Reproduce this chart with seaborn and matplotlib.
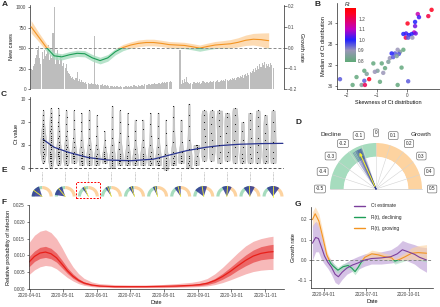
import numpy as np
import pandas as pd
import matplotlib
matplotlib.use('Agg')
import matplotlib.pyplot as plt
import matplotlib.dates as mdates
from matplotlib.patches import Wedge, Rectangle
from matplotlib.lines import Line2D
from matplotlib.colors import LinearSegmentedColormap, Normalize
import seaborn as sns

sns.set_style('ticks')
plt.rcParams['font.family'] = ['Liberation Sans', 'DejaVu Sans']
plt.rcParams.update({
    'font.size': 3.4, 'axes.linewidth': 0.5, 'axes.labelsize': 4, 'axes.labelpad': 1.5,
    'xtick.labelsize': 3.4, 'ytick.labelsize': 3.4,
    'xtick.major.width': 0.5, 'ytick.major.width': 0.5,
    'xtick.major.size': 1.8, 'ytick.major.size': 1.8,
    'xtick.major.pad': 1, 'ytick.major.pad': 1,
    'xtick.color': '#444444', 'ytick.color': '#444444', 'axes.labelcolor': '#111111',
})

# ---------------- data ----------------
# A: daily new cases from 2020-04-01
cases = [250, 230, 280, 310, 380, 420, 470,
         520, 380, 300, 450, 360, 480, 400,
         430, 470, 540, 350, 420, 380, 680,
         1000, 300, 420, 480, 350, 300, 410,
         370, 280, 320, 260, 300, 220, 190,
         180, 160, 140, 150, 120, 110, 130,
         210, 100, 120, 90, 110, 80, 90,
         70, 80, 60, 75, 65, 55, 70,
         60, 55, 650, 60, 50, 55, 45,
         50, 45, 55, 40, 50, 45, 40,
         45, 40, 10, 35, 40, 30, 35,
         30, 35, 40, 30, 25, 35, 30,
         30, 25, 35, 40, 30, 35, 25,
         35, 40, 30, 45, 35, 40, 30,
         45, 40, 35, 50, 45, 40, 55,
         50, 45, 60, 55, 50, 65, 60,
         55, 70, 60, 65, 75, 70, 60,
         75, 80, 70, 85, 75, 90, 80,
         85, 95, 80, 0, 0, 0, 0,
         0, 0, 0, 480, 60, 110, 70,
         120, 80, 150, 90, 75, 60, 70,
         65, 80, 90, 70, 75, 85, 70,
         80, 65, 75, 95, 80, 70, 85,
         90, 75, 85, 100, 80, 90, 95,
         85, 95, 105, 90, 80, 100, 110,
         95, 110, 100, 120, 105, 95, 115,
         125, 110, 130, 120, 140, 115, 135,
         150, 130, 160, 145, 170, 140, 165,
         180, 160, 200, 175, 210, 190, 220,
         240, 210, 260, 230, 280, 250, 300,
         270, 320, 290, 330, 260, 310, 280,
         300, 270, 320, 290, 260]
# A: weekly growth rate (from 2020-04-01) and half width of its interval
a_growth = [0.10, 0.05, 0.0, -0.04, -0.045, -0.035, -0.028, -0.03, -0.05, -0.063, -0.05,
            -0.02, 0.0, 0.012, 0.02, 0.024, 0.024, 0.02, 0.014, 0.012, 0.01, 0.004,
            -0.003, 0.005, 0.012, 0.015, 0.018, 0.025, 0.035, 0.04, 0.038, 0.033]
a_half = [0.03, 0.022, 0.018, 0.016, 0.015, 0.015, 0.015, 0.015, 0.016, 0.016, 0.016,
          0.015, 0.015, 0.015, 0.016, 0.016, 0.016, 0.015, 0.015, 0.015, 0.015, 0.015,
          0.015, 0.016, 0.017, 0.018, 0.02, 0.022, 0.025, 0.028, 0.032, 0.038]

# B: skewness / median Ct per week, coloured by Rt
b_skew = [0.82, 0.71, 0.36, 0.40, 0.27, 0.02, 0.27, 0.24, -0.12, -0.03, 0.07, 0.16, -0.04,
          0.04, 0.18, 0.29, -0.12, -0.23, -0.31, -0.27, -0.40, -0.51, -0.57, -0.46, -0.34,
          -0.62, -0.84, -1.12, -0.18, -0.73, -0.98, -1.07, -0.79, -1.42, -1.34, -1.68,
          -2.23, -1.26, -1.42, -0.90, 0.04, -1.81, -1.51, -1.40, -0.31]
b_median = [21.5, 22.7, 22.3, 22.9, 23.8, 24.1, 24.6, 25.8, 26.1, 26.0, 26.3, 26.1, 26.8,
            26.8, 26.8, 26.0, 29.1, 29.5, 29.1, 29.9, 29.8, 29.8, 30.7, 30.5, 30.3,
            31.4, 31.7, 31.7, 32.5, 32.6, 33.1, 33.3, 33.5, 33.1, 33.7, 34.3,
            34.7, 34.7, 35.0, 35.2, 35.1, 35.8, 35.8, 35.8, 35.8]
b_rt = [1.25, 1.22, 1.12, 1.02, 1.0, 1.25, 1.05, 1.1, 1.0, 1.02, 1.0, 1.0, 1.2,
        0.95, 0.9, 1.05, 0.8, 0.85, 0.9, 0.95, 0.95, 1.0, 0.9, 0.95, 0.85,
        0.85, 0.8, 0.8, 0.8, 0.8, 0.85, 0.9, 0.9, 0.8, 0.85, 0.8,
        0.95, 1.25, 0.95, 0.8, 0.95, 0.8, 0.85, 1.2, 0.8]

# C: weekly Ct values (weeks starting 2020-04-12)
ct_week_start = '2020-04-12'
ct_values = [
    [15, 17, 19, 21, 22, 23, 24, 25, 25, 26, 27, 27, 28, 28, 29, 29, 30, 30, 31, 31, 32, 32, 33, 33, 34, 34, 35, 35, 36, 37, 38],
    [14, 16, 18, 19, 20, 22, 23, 24, 25, 26, 27, 28, 29, 30, 30, 31, 32, 32, 33, 34, 34, 35, 35, 36, 36, 37, 37, 38, 39, 40],
    [14, 17, 20, 22, 24, 26, 27, 29, 30, 31, 32, 33, 33, 34, 34, 35, 35, 36, 36, 37, 37, 38, 39],
    [15, 18, 21, 24, 26, 28, 30, 31, 32, 33, 34, 35, 35, 36, 36, 37, 37, 38, 39],
    [15, 19, 23, 27, 29, 31, 33, 34, 35, 35, 36, 36, 37, 37, 38, 38],
    [16, 20, 24, 28, 31, 33, 34, 35, 36, 36, 37, 37, 38, 39],
    [15, 19, 23, 27, 30, 32, 34, 35, 36, 36, 37, 37, 38, 39],
    [17, 22, 26, 30, 32, 34, 35, 36, 36, 37, 37, 38, 38, 39],
    [24, 28, 31, 33, 34, 35, 36, 36, 37, 37, 38, 38],
    [13, 18, 23, 27, 30, 33, 35, 36, 37, 37, 38, 38, 39, 40],
    [15, 20, 25, 29, 32, 34, 35, 36, 37, 37, 38, 39],
    [16, 21, 26, 30, 33, 35, 36, 37, 37, 38, 38, 39],
    [19, 24, 28, 32, 34, 36, 37, 37, 38, 38, 39],
    [19, 23, 28, 31, 34, 35, 36, 37, 37, 38, 39],
    [16, 21, 26, 30, 33, 35, 36, 37, 38, 38, 39],
    [16, 22, 27, 31, 34, 36, 37, 37, 38, 39, 39],
    [19, 25, 30, 34, 36, 37, 37, 38, 38, 39, 40, 41],
    [13, 18, 24, 29, 33, 35, 36, 37, 38, 38, 39],
    [19, 24, 29, 33, 35, 36, 37, 37, 38],
    [12, 17, 22, 28, 32, 35, 36, 37, 38, 39, 40],
    [30, 30, 31, 32, 35, 37, 38, 39],
    [15, 17, 20, 23, 26, 29, 32, 35, 37],
    [15, 18, 21, 25, 28, 31, 34, 37],
    [15, 16, 19, 22, 26, 30, 33, 36, 38],
    [16, 18, 22, 25, 29, 33, 35, 37],
    [14, 17, 21, 24, 28, 31, 35, 38],
    [20, 24, 28, 31, 34, 36, 37, 38],
    [16, 19, 23, 27, 31, 34, 36, 38],
    [15, 18, 22, 27, 30, 33, 36, 38],
    [17, 21, 25, 28, 32, 35, 37, 38],
    [15, 20, 24, 29, 33, 36, 38],
]
ct_trend_dates = ['2020-04-12', '2020-04-22', '2020-05-05', '2020-05-23', '2020-06-10', '2020-07-01',
                  '2020-07-22', '2020-08-03', '2020-08-21', '2020-09-08', '2020-09-20', '2020-10-08',
                  '2020-10-28', '2020-11-17']
ct_trend = [27.7, 31.1, 33.3, 35.6, 36.7, 37.0, 36.3, 34.8, 32.6, 31.1, 30.4, 29.8, 29.5, 29.4]

# E: growth direction per glyph (every third week): estimate, low, high
e_mean = [-0.30, -0.22, -0.13, -0.12, -0.10, -0.08, -0.08, -0.05, 0.02, -0.02, 0.0]
e_lo = [-0.50, -0.45, -0.20, -0.20, -0.18, -0.15, -0.20, -0.30, -0.15, -0.20, -0.20]
e_hi = [-0.10, -0.10, -0.11, -0.08, -0.05, -0.03, 0.0, 0.10, 0.15, 0.15, 0.20]

# D: gauge of the highlighted week
d_mean = -0.135
d_samples = [-0.11, -0.115, -0.12, -0.12, -0.125, -0.13, -0.13, -0.135, -0.14, -0.14,
             -0.145, -0.15, -0.155, -0.16, -0.17, -0.18]
d_ticks = [-0.5, -0.4, -0.3, -0.2, -0.1, 0, 0.1, 0.2, 0.3, 0.4, 0.5]

# F: relative probability of infection
f_dates = ['2020-03-31', '2020-04-05', '2020-04-10', '2020-04-15', '2020-04-20', '2020-04-25',
           '2020-04-30', '2020-05-05', '2020-05-10', '2020-05-15', '2020-05-20', '2020-05-27',
           '2020-06-03', '2020-06-17', '2020-07-01', '2020-07-15', '2020-07-29', '2020-08-12',
           '2020-08-26', '2020-09-02', '2020-09-09', '2020-09-16', '2020-09-23', '2020-09-30',
           '2020-10-07', '2020-10-14', '2020-10-21', '2020-10-28', '2020-11-04', '2020-11-08']
f_mean = [0.0080, 0.0097, 0.0107, 0.0110, 0.0105, 0.0093, 0.0074, 0.0054, 0.0038, 0.0026,
          0.0018, 0.0012, 0.0009, 0.0007, 0.0007, 0.0007, 0.0008, 0.0009, 0.0011, 0.0013,
          0.0017, 0.0025, 0.0037, 0.0052, 0.0069, 0.0085, 0.0098, 0.0106, 0.0110, 0.0111]
f_lo50 = [0.0066, 0.0082, 0.0091, 0.0094, 0.0090, 0.0080, 0.0063, 0.0046, 0.0032, 0.0022,
          0.0015, 0.0010, 0.0008, 0.0006, 0.0006, 0.0006, 0.0006, 0.0007, 0.0009, 0.0010,
          0.0013, 0.0019, 0.0029, 0.0041, 0.0056, 0.0069, 0.0080, 0.0087, 0.0090, 0.0091]
f_hi50 = [0.0096, 0.0113, 0.0124, 0.0127, 0.0121, 0.0107, 0.0086, 0.0063, 0.0045, 0.0031,
          0.0021, 0.0014, 0.0011, 0.0009, 0.0008, 0.0008, 0.0009, 0.0011, 0.0013, 0.0016,
          0.0021, 0.0031, 0.0046, 0.0064, 0.0083, 0.0101, 0.0116, 0.0126, 0.0131, 0.0133]
f_lo95 = [0.0043, 0.0057, 0.0066, 0.0070, 0.0068, 0.0060, 0.0047, 0.0034, 0.0024, 0.0016,
          0.0011, 0.0007, 0.0005, 0.0004, 0.0004, 0.0004, 0.0004, 0.0005, 0.0006, 0.0007,
          0.0009, 0.0013, 0.0019, 0.0027, 0.0036, 0.0045, 0.0052, 0.0056, 0.0058, 0.0058]
f_hi95 = [0.0138, 0.0160, 0.0172, 0.0176, 0.0168, 0.0150, 0.0123, 0.0092, 0.0066, 0.0046,
          0.0032, 0.0021, 0.0016, 0.0013, 0.0012, 0.0012, 0.0013, 0.0016, 0.0020, 0.0024,
          0.0031, 0.0045, 0.0064, 0.0086, 0.0108, 0.0128, 0.0142, 0.0150, 0.0155, 0.0157]

# G: growth rate from Ct and from R(t)
g_ct_dates = ['2020-03-07', '2020-03-14', '2020-03-20', '2020-03-27', '2020-04-02', '2020-04-09',
              '2020-04-17', '2020-04-25', '2020-05-02', '2020-05-10', '2020-05-20', '2020-06-01',
              '2020-06-14', '2020-06-28', '2020-07-12', '2020-08-02', '2020-08-23', '2020-09-06',
              '2020-09-17', '2020-09-28', '2020-10-13', '2020-10-24', '2020-11-08']
g_ct = [0.082, 0.11, 0.105, 0.06, 0.02, -0.01, -0.035, -0.07, -0.082, -0.06, -0.04, -0.025,
        -0.014, 0.0, 0.007, 0.01, 0.016, 0.03, 0.05, 0.041, 0.028, 0.013, 0.0]
g_ct_lo = [0.0, 0.04, 0.04, 0.0, -0.02, -0.04, -0.07, -0.11, -0.12, -0.095, -0.07, -0.055,
           -0.045, -0.03, -0.02, -0.02, -0.015, -0.01, 0.005, -0.005, -0.02, -0.04, -0.06]
g_ct_hi = [0.17, 0.19, 0.18, 0.12, 0.06, 0.02, 0.0, -0.03, -0.045, -0.025, -0.01, 0.005,
           0.018, 0.03, 0.035, 0.04, 0.05, 0.07, 0.095, 0.085, 0.075, 0.065, 0.06]
g_rt_dates = ['2020-03-07', '2020-03-13', '2020-03-21', '2020-03-29', '2020-04-07', '2020-04-15',
              '2020-04-20', '2020-05-01', '2020-05-12', '2020-05-23', '2020-05-31', '2020-06-07',
              '2020-06-14', '2020-06-21', '2020-06-28', '2020-07-13', '2020-07-27', '2020-08-10',
              '2020-08-25', '2020-09-01', '2020-09-12', '2020-09-23', '2020-10-07', '2020-10-21',
              '2020-11-08']
g_rt = [0.197, 0.226, 0.19, 0.115, 0.025, -0.015, -0.028, -0.05, -0.033, -0.027, -0.04, -0.057,
        -0.035, -0.008, 0.013, 0.03, 0.025, 0.016, 0.01, -0.006, 0.004, 0.016, 0.033, 0.036, 0.033]
g_rt_lo = [0.16, 0.19, 0.155, 0.085, 0.005, -0.03, -0.045, -0.065, -0.048, -0.042, -0.055, -0.072,
           -0.05, -0.022, -0.002, 0.012, 0.008, 0.0, -0.005, -0.02, -0.012, -0.004, 0.005, 0.0, -0.01]
g_rt_hi = [0.235, 0.26, 0.225, 0.145, 0.045, 0.0, -0.012, -0.035, -0.018, -0.012, -0.025, -0.042,
           -0.02, 0.006, 0.028, 0.048, 0.042, 0.032, 0.025, 0.008, 0.02, 0.036, 0.06, 0.07, 0.075]

# ---------------- styling ----------------
ORANGE, ORANGE_L = '#f39422', '#fdd3a0'
GREEN, GREEN_L = '#1e9e57', '#a6dcbe'
PURPLE, PURPLE_L = '#7b3f9c', '#c4a8da'
NAVY, YELLOW = '#2a3590', '#f2f032'
RED = '#e8201a'

W, H = 440, 307
fig = plt.figure(figsize=(W / 100, H / 100), dpi=100)


def add_px(x0, y0, x1, y1):
    return fig.add_axes([x0 / W, 1 - y1 / H, (x1 - x0) / W, (y1 - y0) / H])


def d2n(lst):
    return mdates.date2num(pd.to_datetime(lst))


def signed(ax, x, y, lo, hi, x0, x1, alpha=0.8, lw=0.8):
    above = Rectangle((x0, 0), x1 - x0, 10, transform=ax.transData)
    below = Rectangle((x0, -10), x1 - x0, 10, transform=ax.transData)
    f1 = ax.fill_between(x, lo, hi, color=ORANGE_L, lw=0, alpha=alpha)
    f1.set_clip_path(above)
    f2 = ax.fill_between(x, lo, hi, color=GREEN_L, lw=0, alpha=alpha)
    f2.set_clip_path(below)
    l1, = ax.plot(x, y, color=ORANGE, lw=lw)
    l1.set_clip_path(above)
    l2, = ax.plot(x, y, color=GREEN, lw=lw)
    l2.set_clip_path(below)


def ang(g):
    return 90 - 180 * g


xmin, xmax = d2n(['2020-03-31', '2020-11-18'])
pxday = (284 - 29) / (xmax - xmin)

# ---------------- A ----------------
axA = add_px(30, 5, 284, 89)
case_x = d2n(pd.date_range('2020-04-01', periods=len(cases)))
axA.bar(case_x, cases, width=0.95, color='#bdbdbd', lw=0)
axA.set_xlim(xmin, xmax)
axA.set_ylim(0, 1025)
axA.set_yticks([0, 250, 500, 750, 1000])
axA.set_ylabel('New cases')
axA.set_xticks([])
for s in ['top', 'right', 'bottom']:
    axA.spines[s].set_visible(False)
axA2 = axA.twinx()
axA2.set_ylim(-0.2, 0.205)
axA2.set_yticks([-0.2, -0.1, 0.0, 0.1, 0.2])
axA2.set_ylabel('Growth rate', rotation=270, labelpad=5)
for s in ['top', 'left', 'bottom']:
    axA2.spines[s].set_visible(False)
axA2.axhline(0, color='#8a8a8a', lw=0.7, ls=(0, (3, 2)))
ga_x = d2n(pd.date_range('2020-04-01', periods=len(a_growth), freq='7D'))
ga = np.array(a_growth)
gh = np.array(a_half)
signed(axA2, ga_x, ga, ga - gh, ga + gh, xmin, xmax)

# ---------------- B ----------------
axB = add_px(337, 3, 440, 89)
rt_cmap = LinearSegmentedColormap.from_list(
    'rt', [(0.0, '#5faa78'), (0.215, '#9a96b8'), (0.41, '#2020ff'), (0.61, '#c000c0'),
           (0.9, '#ff0020'), (1.0, '#ff0000')])
rt_norm = Normalize(0.79, 1.3)
sns.scatterplot(x=b_skew, y=b_median, hue=b_rt, palette=rt_cmap, hue_norm=rt_norm,
                s=10, linewidth=0, alpha=0.85, legend=False, ax=axB)
axB.set_xlim(-2.33, 1.1)
axB.set_ylim(36.57, 20.2)
axB.set_xticks([-2, -1, 0])
axB.set_yticks([24, 28, 32, 36])
axB.set_xlabel('Skewness of Ct distribution')
axB.set_ylabel('Median of Ct distribution')
sns.despine(ax=axB)
caxB = add_px(345, 8, 356, 62)
cb = fig.colorbar(plt.cm.ScalarMappable(norm=rt_norm, cmap=rt_cmap), cax=caxB)
cb.outline.set_visible(False)
cb.set_ticks([0.8, 0.9, 1.0, 1.1, 1.2])
cb.ax.tick_params(length=2, color='white', width=0.5, labelsize=3.4, pad=1.5, direction='in')
caxB.set_title('Rt', style='italic', loc='left', fontsize=4, pad=1.5)

# ---------------- C ----------------
axC = add_px(30, 97, 284, 171)
ct_x = d2n(pd.date_range(ct_week_start, periods=len(ct_values), freq='7D'))
df_ct = pd.DataFrame({'x': np.repeat(ct_x, [len(v) for v in ct_values]),
                      'ct': np.concatenate(ct_values)})
sns.violinplot(data=df_ct, x='x', y='ct', native_scale=True, density_norm='width', width=0.8,
               inner=None, cut=0, bw_adjust=0.8, color='#cbcbcb', saturation=1,
               linewidth=0.25, linecolor='#a8a8a8', ax=axC)
np.random.seed(1)
sns.stripplot(data=df_ct, x='x', y='ct', native_scale=True, jitter=0.08, size=0.8,
              color='#111111', ax=axC)
axC.axhline(40, color='#555555', lw=0.7, ls=(0, (3, 2)))
axC.plot(d2n(ct_trend_dates), ct_trend, color=NAVY, lw=0.9)
axC.set_xlim(xmin, xmax)
axC.set_ylim(41.5, 9.1)
axC.set_yticks([10, 20, 30, 40])
axC.set_ylabel('Ct value')
axC.set_xlabel('')
axC.set_xticks([])
for s in ['top', 'right', 'bottom']:
    axC.spines[s].set_visible(False)

# ---------------- E ----------------
axE = add_px(29, 172, 284, 200)
axE.set_xlim(xmin, xmax)
axE.set_ylim(0, 28 / pxday)
axE.axis('off')
r = 10.5 / pxday
cy = 3.5 / pxday
e_x = ct_x[::3]
for i, x in enumerate(e_x):
    axE.add_patch(Wedge((x, cy), r, 90, 180, width=0.3 * r, color=GREEN_L, lw=0))
    axE.add_patch(Wedge((x, cy), r, 0, 90, width=0.3 * r, color=ORANGE_L, lw=0))
    axE.add_patch(Wedge((x, cy), r, ang(e_hi[i]), ang(e_lo[i]), color=NAVY, lw=0, alpha=0.85))
    a = np.deg2rad(ang(e_mean[i]))
    axE.plot([x, x + r * np.cos(a)], [cy, cy + r * np.sin(a)], color=YELLOW, lw=0.6)
    axE.plot([x, x], [19 / pxday, 28 / pxday], color='#9a9a9a', lw=0.5, ls=(0, (1, 1)),
             clip_on=False)
axE.add_patch(Rectangle((e_x[2] - 12 / pxday, 2 / pxday), 24 / pxday, 16 / pxday, fill=False,
                        ec='red', lw=0.7, ls=(0, (2, 1.5)), clip_on=False))

# ---------------- D ----------------
axD = add_px(296, 118, 440, 200)
sc = 46
axD.set_xlim((296 - 376) / sc, (440 - 376) / sc)
axD.set_ylim((189 - 200) / sc, (189 - 118) / sc)
axD.axis('off')
axD.add_patch(Wedge((0, 0), 1.0, 90, 180, width=0.3, color=GREEN_L, lw=0))
axD.add_patch(Wedge((0, 0), 1.0, 0, 90, width=0.3, color=ORANGE_L, lw=0))
axD.add_patch(Wedge((0, 0), 0.7, 0, 180, color='white', lw=0))
axD.plot([-1, 1], [0, 0], color='#d0d0d0', lw=0.5)
for t in d_ticks:
    ta = np.deg2rad(ang(t))
    axD.plot([0, np.cos(ta)], [0, np.sin(ta)], color='#d4d4d4', lw=0.4)
    axD.text(1.22 * np.cos(ta), 1.22 * np.sin(ta), f'{t:g}' if t else '0', ha='center',
             va='center', fontsize=3.4,
             bbox=dict(boxstyle='round,pad=0.3,rounding_size=0.3', fc='white', ec='#555555', lw=0.4))
for g in d_samples:
    ta = np.deg2rad(ang(g))
    axD.plot([0, 0.93 * np.cos(ta)], [0, 0.93 * np.sin(ta)], color=NAVY, lw=0.6, alpha=0.4)
ta = np.deg2rad(ang(d_mean))
axD.annotate('', xy=(0.93 * np.cos(ta), 0.93 * np.sin(ta)), xytext=(0, 0),
             arrowprops=dict(arrowstyle='-|>', color=YELLOW, lw=0.8, mutation_scale=4))
axD.text((331 - 376) / sc, (189 - 135) / sc, 'Decline', ha='center', va='center', fontsize=4.6)
axD.text((421 - 376) / sc, (189 - 135) / sc, 'Growth', ha='center', va='center', fontsize=4.6)

# ---------------- F ----------------
axF = add_px(29, 205, 284, 289)
fx = d2n(f_dates)
axF.fill_between(fx, f_lo95, f_hi95, color='#f7b9b9', lw=0)
axF.fill_between(fx, f_lo50, f_hi50, color='#ec6666', lw=0)
sns.lineplot(x=fx, y=f_mean, color=RED, lw=0.9, ax=axF)
axF.set_xlim(xmin, xmax)
axF.set_ylim(0, 0.025)
axF.set_yticks([0, 0.005, 0.01, 0.015, 0.02, 0.025])
axF.yaxis.set_major_formatter(matplotlib.ticker.FormatStrFormatter('%.3f'))
axF.set_xticks(d2n(['2020-04-01', '2020-05-01', '2020-06-01', '2020-07-01', '2020-08-01',
                    '2020-09-01', '2020-10-01', '2020-11-01']))
axF.xaxis.set_major_formatter(mdates.DateFormatter('%Y-%m-%d'))
axF.set_xlabel('Date')
axF.set_ylabel('Relative probability of infection')
sns.despine(ax=axF)

# ---------------- G ----------------
axG = add_px(311, 207, 433, 288)
gxmin, gxmax = d2n(['2020-03-04', '2020-11-22'])
axG.axhline(0, color='#8a8a8a', lw=0.7, ls=(0, (3, 2)))
gcx = d2n(g_ct_dates)
axG.fill_between(gcx, g_ct_lo, g_ct_hi, color=PURPLE_L, lw=0, alpha=0.7)
grx = d2n(g_rt_dates)
signed(axG, grx, np.array(g_rt), g_rt_lo, g_rt_hi, gxmin, gxmax, alpha=0.6)
sns.lineplot(x=gcx, y=g_ct, color=PURPLE, lw=0.8, ax=axG)
axG.set_xlim(gxmin, gxmax)
axG.set_ylim(-0.137, 0.259)
axG.set_yticks([-0.1, 0.0, 0.1, 0.2])
axG.set_xticks(d2n(['2020-04-01', '2020-07-01', '2020-10-01']))
axG.xaxis.set_major_formatter(mdates.DateFormatter('%Y-%m-%d'))
axG.set_xlabel('Date')
axG.set_ylabel('Growth rate')
sns.despine(ax=axG)
handles = [Line2D([], [], color=PURPLE, lw=1), Line2D([], [], color=GREEN, lw=1),
           Line2D([], [], color=ORANGE, lw=1)]
fig.legend(handles, ['Ct estimate', 'R(t), declining', 'R(t), growing'], loc='upper left',
           bbox_to_anchor=(352 / W, 1 - 201 / H), frameon=False, fontsize=3.5,
           handlelength=2.2, labelspacing=1.3, handletextpad=1.2, borderpad=0)

# panel letters
for lab, x, y in [('A', 5, 5), ('B', 317, 4), ('C', 4, 95), ('D', 298, 122), ('E', 4, 171),
                  ('F', 4, 203), ('G', 298, 205)]:
    fig.text(x / W, 1 - y / H, lab, fontsize=6, fontweight='bold', ha='center', va='center')

fig.savefig('out.png', dpi=100)
